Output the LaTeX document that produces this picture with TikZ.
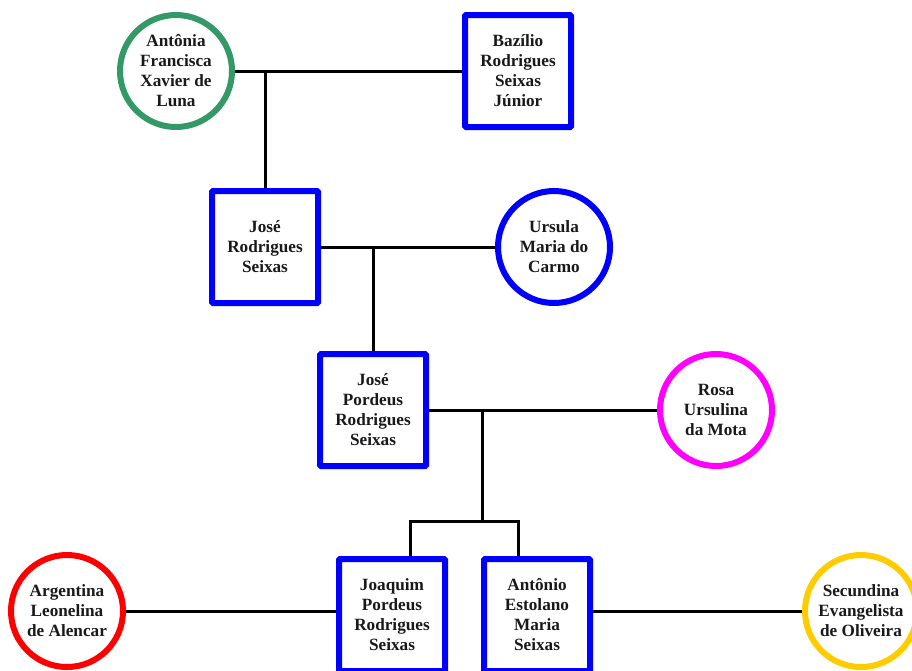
\documentclass[tikz,border=0pt]{standalone}
\usepackage{fontspec}
\setmainfont{Liberation Serif}
\usetikzlibrary{backgrounds}
\definecolor{femgreen}{RGB}{51,153,102}
\definecolor{femyellow}{RGB}{255,204,0}
\definecolor{femmagenta}{RGB}{255,0,255}
\definecolor{malblue}{RGB}{0,0,255}
\definecolor{femred}{RGB}{255,0,0}
\begin{document}
\begin{tikzpicture}[x=1pt,y=-1pt,
  person/.style={draw, line width=6pt, fill=white, align=center, inner sep=0pt,
    font=\bfseries\fontsize{17.2}{20}\selectfont, text=black!90},
  male/.style={person, draw=malblue, rectangle, rounded corners=1pt,
    minimum width=106pt, minimum height=112pt},
  female/.style={person, circle, minimum size=112pt},
  link/.style={draw=black, line width=3pt}]
\useasboundingbox (0,0) rectangle (912,670);
\clip (0,0) rectangle (912,670);

% generation 1
\node[female, draw=femgreen] (antonia) at (176,71) {Antônia\\Francisca\\Xavier de\\Luna};
\node[male] (bazilio) at (518,71) {Bazílio\\Rodrigues\\Seixas\\Júnior};
% generation 2
\node[male] (joseR) at (265,247) {José\\Rodrigues\\Seixas};
\node[female, draw=malblue] (ursula) at (554,247) {Ursula\\Maria do\\Carmo};
% generation 3
\node[male] (joseP) at (373,410) {José\\Pordeus\\Rodrigues\\Seixas};
\node[female, draw=femmagenta] (rosa) at (716,410) {Rosa\\Ursulina\\da Mota};
% generation 4
\node[male] (joaquim) at (392,615) {Joaquim\\Pordeus\\Rodrigues\\Seixas};
\node[male] (antonioE) at (537,615) {Antônio\\Estolano\\Maria\\Seixas};
\node[female, draw=femred] (argentina) at (67,611) {Argentina\\Leonelina\\de Alencar};
\node[female, draw=femyellow] (secundina) at (861,611) {Secundina\\Evangelista\\de Oliveira};

% junction points
\coordinate (m1) at (265,71);
\coordinate (m2) at (373,247);
\coordinate (m3) at (482,410);
\coordinate (sib) at (482,521);
\coordinate (sl) at (410,521);
\coordinate (sr) at (518,521);

\begin{scope}[on background layer]
  \draw[link] (antonia.east) -- (bazilio.west);
  \draw[link] (m1) -- (joseR.north);
  \draw[link] (joseR.east) -- (ursula.west);
  \draw[link] (m2) -- (joseP.north);
  \draw[link] (joseP.east) -- (rosa.west);
  \draw[link] (m3) -- (sib);
  \draw[link] (sl |- joaquim.north) -- (sl) -- (sr) -- (sr |- antonioE.north);
  \draw[link] (argentina.east) -- (argentina.east -| joaquim.west);
  \draw[link] (antonioE.east |- secundina.west) -- (secundina.west);
\end{scope}
\end{tikzpicture}
\end{document}
